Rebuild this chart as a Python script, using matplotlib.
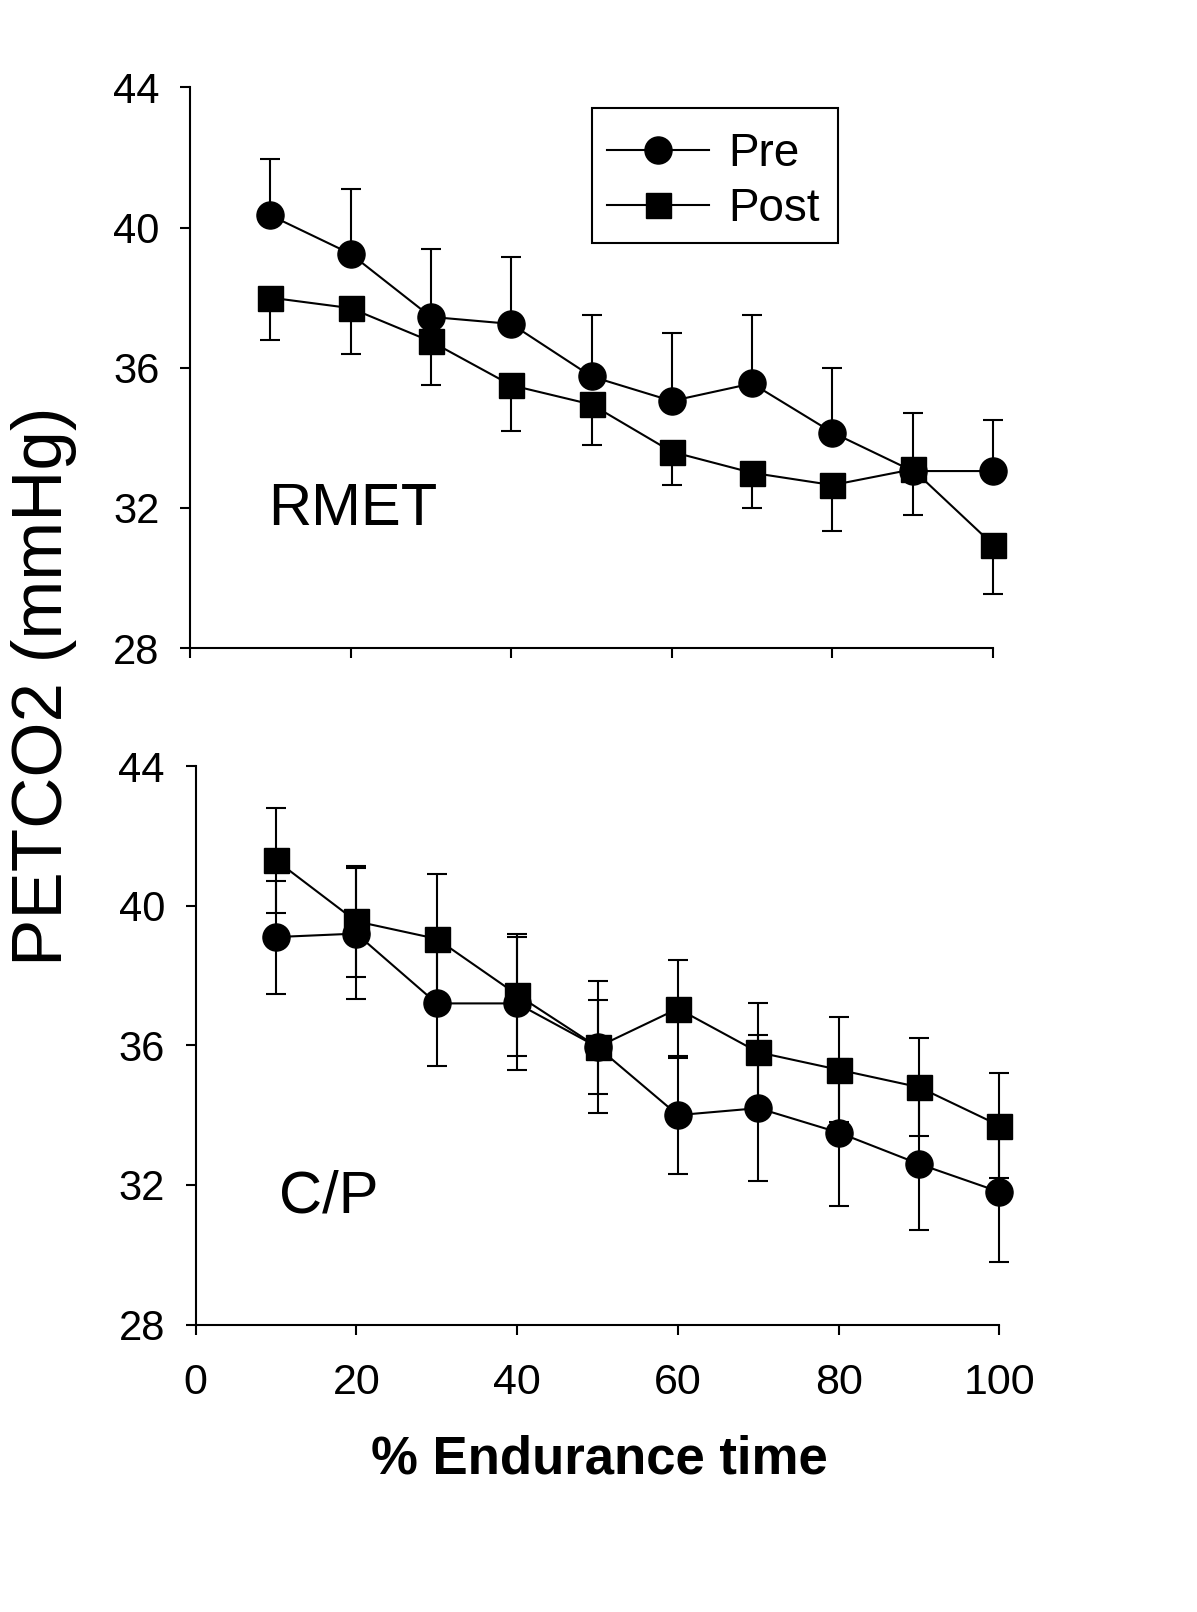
import numpy as np
import matplotlib
matplotlib.use("Agg")
import matplotlib.pyplot as plt
from matplotlib.lines import Line2D
from matplotlib.patches import Rectangle

plt.rcParams['font.family'] = ['Liberation Sans', 'DejaVu Sans']

# ---- data ----
pct_time = [10, 20, 30, 40, 50, 60, 70, 80, 90, 100]

rmet_pre = [40.35, 39.25, 37.45, 37.25, 35.75, 35.05, 35.55, 34.15, 33.05, 33.05]
rmet_pre_err = [1.6, 1.85, 1.95, 1.9, 1.75, 1.95, 1.95, 1.85, 1.65, 1.45]
rmet_post = [38.0, 37.7, 36.75, 35.5, 34.95, 33.6, 33.0, 32.65, 33.1, 30.95]
rmet_post_err = [1.2, 1.3, 1.25, 1.3, 1.15, 0.95, 1.0, 1.3, 1.3, 1.4]

cp_pre = [39.1, 39.2, 37.2, 37.2, 35.95, 34.0, 34.2, 33.5, 32.6, 31.8]
cp_pre_err = [1.62, 1.88, 1.8, 1.9, 1.35, 1.7, 2.1, 2.1, 1.9, 2.0]
cp_post = [41.3, 39.55, 39.05, 37.45, 35.95, 37.05, 35.8, 35.3, 34.8, 33.7]
cp_post_err = [1.5, 1.58, 1.85, 1.75, 1.9, 1.4, 1.4, 1.5, 1.4, 1.5]

y_ticks = [28, 32, 36, 40, 44]
x_ticks = [0, 20, 40, 60, 80, 100]
series_labels = ['Pre', 'Post']

W, H = 1197, 1612
fig = plt.figure(figsize=(W / 100, H / 100), dpi=100)

def px_axes(left, top, right, bottom):
    return fig.add_axes([left / W, 1 - bottom / H, (right - left) / W, (bottom - top) / H])

ax1 = px_axes(190, 87.4, 993, 648)
ax2 = px_axes(195.5, 766, 999.5, 1324.6)

ekw = dict(color='k', lw=1.5, elinewidth=1.5, capsize=7, capthick=1.5, clip_on=False)

def style(ax, show_xlabels):
    ax.set_xlim(0, 100)
    ax.set_ylim(28, 44)
    for s in ['top', 'right']:
        ax.spines[s].set_visible(False)
    for s in ['left', 'bottom']:
        ax.spines[s].set_linewidth(1.5)
    ax.set_yticks(y_ticks)
    ax.set_xticks(x_ticks)
    ax.tick_params(axis='y', direction='out', length=7, width=1.5, labelsize=30, pad=15)
    ax.tick_params(axis='x', direction='out', length=7, width=1.5, labelsize=31, pad=21,
                   labelbottom=show_xlabels)

x = np.array(pct_time)

# Top panel: RMET (pre errors up, post errors down)
z = np.zeros(len(x))
ax1.errorbar(x, rmet_pre, yerr=[z, rmet_pre_err], fmt='-o', ms=19.5, **ekw)
ax1.errorbar(x, rmet_post, yerr=[rmet_post_err, z], fmt='-s', ms=18, **ekw)
style(ax1, False)
ax1.text(9.7, 31.5, 'RMET', fontsize=43, ha='left', va='baseline')

# legend frame (square corners) and content
fig.add_artist(Rectangle((591.7 / W, 1 - 243.3 / H), (838.3 - 591.7) / W, (243.3 - 108.3) / H,
                         transform=fig.transFigure, fill=False, lw=1.5, ec='k'))
handles = [Line2D([], [], color='k', lw=1.5, marker='o', ms=19.5),
           Line2D([], [], color='k', lw=1.5, marker='s', ms=18)]
leg = ax1.legend(handles, series_labels, loc='center left',
                 bbox_to_anchor=(606.7 / W, 1 - 181.5 / H), bbox_transform=fig.transFigure,
                 borderaxespad=0, borderpad=0, fontsize=33, handlelength=2.23,
                 handletextpad=0.43, labelspacing=0.22, frameon=False, numpoints=1)

# Bottom panel: C/P (symmetric errors)
ax2.errorbar(x, cp_pre, yerr=cp_pre_err, fmt='-o', ms=19.5, **ekw)
ax2.errorbar(x, cp_post, yerr=cp_post_err, fmt='-s', ms=18, **ekw)
style(ax2, True)
ax2.text(10.4, 31.2, 'C/P', fontsize=43, ha='left', va='baseline')

fig.text(599 / W, 1 - 1474 / H, '% Endurance time', fontsize=38, fontweight='bold',
         ha='center', va='baseline')
fig.text(44 / W, 1 - 686 / H, 'PETCO2 (mmHg)', fontsize=51, rotation=90,
         ha='center', va='center')

fig.savefig('out.png', dpi=100)
